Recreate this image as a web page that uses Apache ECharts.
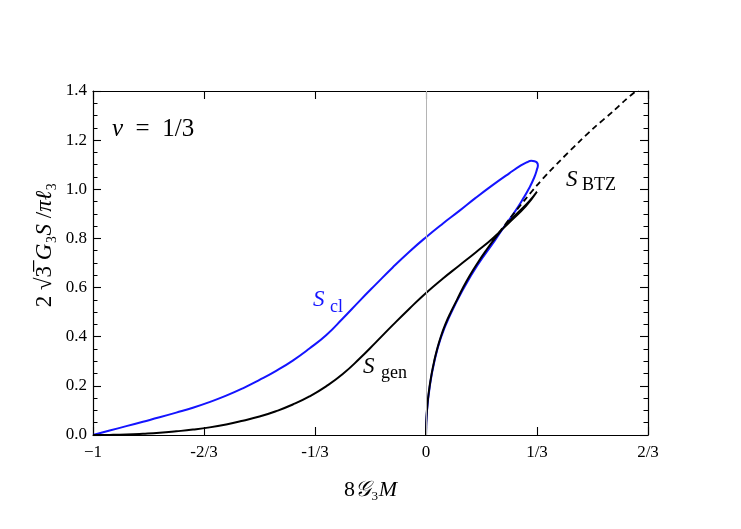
<!DOCTYPE html>
<html>
<head>
<meta charset="utf-8">
<script src="https://cdn.jsdelivr.net/npm/echarts@6/dist/echarts.min.js"></script>
<style>
  html, body { margin: 0; padding: 0; background: #fff; }
  #main { width: 741px; height: 529px; }
</style>
</head>
<body>
<div id="main"></div>
<script>
// tick labels
let xTickLabels = ["\u22121", "-2/3", "-1/3", "0", "1/3", "2/3"]
let yTickLabels = ["0.0", "0.2", "0.4", "0.6", "0.8", "1.0", "1.2", "1.4"]

// S_cl (blue): from the origin up to the tip near M=1/3, then back to -1
let sCl = [
    [0, 0], [0.0028, 0.095], [0.011, 0.195], [0.0245, 0.295], [0.0445, 0.395],
    [0.0745, 0.494], [0.1115, 0.593], [0.155, 0.692], [0.207, 0.792], [0.237, 0.852],
    [0.265, 0.905], [0.29, 0.958], [0.31, 1.005], [0.325, 1.048], [0.333, 1.08],
    [0.336, 1.098], [0.333, 1.109], [0.326, 1.114], [0.316, 1.116], [0.303, 1.11],
    [0.285, 1.097], [0.25, 1.065], [0.2, 1.017], [0.15, 0.966], [0.1, 0.912],
    [0.05, 0.86], [0, 0.805], [-0.05, 0.746], [-0.1, 0.682], [-0.15, 0.614],
    [-0.2, 0.545], [-0.25, 0.474], [-0.3, 0.406], [-0.35, 0.352], [-0.4, 0.303],
    [-0.45, 0.261], [-0.5, 0.224], [-0.55, 0.19], [-0.6, 0.16], [-0.65, 0.134],
    [-0.7, 0.111], [-0.75, 0.091], [-0.8, 0.072], [-0.85, 0.054], [-0.9, 0.036],
    [-0.95, 0.018], [-1, 0]
]

// S_gen (black): lower branch up to the cusp at M=1/3, then upper branch back to -1
let sGen = [
    [0, 0], [0.0007, 0.05], [0.0028, 0.1], [0.0062, 0.15], [0.011, 0.2],
    [0.017, 0.25], [0.0245, 0.3], [0.0335, 0.35], [0.0445, 0.4], [0.058, 0.45],
    [0.0745, 0.5], [0.093, 0.55], [0.1115, 0.6], [0.132, 0.65], [0.155, 0.7],
    [0.18, 0.75], [0.207, 0.8], [0.237, 0.85], [0.272, 0.9], [0.309, 0.95],
    [0.333, 0.99],
    [0.3, 0.932], [0.25, 0.865], [0.2, 0.8], [0.15, 0.744], [0.1, 0.69],
    [0.05, 0.636], [0, 0.578], [-0.05, 0.514], [-0.1, 0.447], [-0.15, 0.378],
    [-0.2, 0.31], [-0.25, 0.248], [-0.3, 0.198], [-0.35, 0.157], [-0.4, 0.124],
    [-0.45, 0.097], [-0.5, 0.075], [-0.55, 0.058], [-0.6, 0.043], [-0.65, 0.031],
    [-0.7, 0.022], [-0.75, 0.015], [-0.8, 0.009], [-0.85, 0.005], [-0.9, 0.002],
    [-0.95, 0.0005], [-1, 0]
]

// S_BTZ (dashed)
let sBtz = [
    [0.2, 0.79], [0.25, 0.878], [0.3, 0.962], [0.333, 1.016], [0.372, 1.074],
    [0.4, 1.113], [0.462, 1.196], [0.5, 1.245], [0.5625, 1.318], [0.6, 1.365],
    [0.64, 1.41]
]

let serif = "'Liberation Serif', 'DejaVu Serif', serif"

var myChart = echarts.init(document.getElementById('main'))

function frameX(pos, withLabels) {
    return {
        type: 'value', position: pos, min: -1, max: 2 / 3, interval: 1 / 3,
        axisLine: { show: true, onZero: false, lineStyle: { color: '#000', width: 1.2 } },
        axisTick: { show: true, inside: true, length: 8, lineStyle: { color: '#000', width: 1.1 } },
        axisLabel: {
            show: withLabels, color: '#000', fontFamily: serif, fontSize: 17, margin: 9,
            formatter: v => xTickLabels[Math.round(v * 3) + 3]
        },
        splitLine: { show: false }
    }
}

function frameY(pos, withLabels) {
    return {
        type: 'value', position: pos, min: 0, max: 1.4, interval: 0.2,
        axisLine: { show: true, onZero: false, lineStyle: { color: '#000', width: 1.2 } },
        axisTick: { show: true, inside: true, length: 8, lineStyle: { color: '#000', width: 1.1 } },
        minorTick: { show: true, splitNumber: 4, length: 4.5, lineStyle: { color: '#000', width: 1 } },
        axisLabel: {
            show: withLabels, color: '#000', fontFamily: serif, fontSize: 17, margin: 6,
            formatter: v => yTickLabels[Math.round(v / 0.2)]
        },
        splitLine: { show: false }
    }
}

let xBottom = frameX('bottom', true)
xBottom.name = '{r|8}{i|\u{1D4A2}}{r|\u2083}{i|M}'
xBottom.nameLocation = 'middle'
xBottom.nameGap = 44
xBottom.nameTextStyle = {
    color: '#000', fontFamily: serif, fontSize: 22,
    rich: {
        r: { fontFamily: serif, fontSize: 22, color: '#000' },
        i: { fontFamily: serif, fontSize: 22, fontStyle: 'italic', color: '#000' }
    }
}

let richTitle = {
    r: { fontFamily: serif, fontSize: 23, color: '#000' },
    i: { fontFamily: serif, fontSize: 23, fontStyle: 'italic', color: '#000' }
}

var option = {
    animation: false,
    backgroundColor: '#fff',
    grid: { left: 93, right: 93, top: 91, bottom: 94 },
    xAxis: [xBottom, frameX('top', false)],
    yAxis: [frameY('left', true), frameY('right', false)],
    series: [
        {
            // thin grey line at M = 0
            type: 'line', data: [], z: 1,
            markLine: {
                silent: true, symbol: 'none', label: { show: false },
                lineStyle: { color: '#b4b4b4', width: 1, type: 'solid' },
                data: [{ xAxis: 0 }]
            }
        },
        {
            name: 'S_cl', type: 'line', data: sCl, showSymbol: false, smooth: 0.5, z: 2,
            lineStyle: { color: '#1414ff', width: 2 }
        },
        {
            name: 'S_gen', type: 'line', data: sGen, showSymbol: false, smooth: 0.5, z: 3,
            lineStyle: { color: '#000', width: 2 }
        },
        {
            name: 'S_BTZ', type: 'line', data: sBtz, showSymbol: false, smooth: 0.3, z: 4,
            lineStyle: { color: '#000', width: 1.8, type: [6, 4] }
        }
    ],
    graphic: [
        {
            // y axis title
            type: 'text', x: 45, y: 245, rotation: Math.PI / 2,
            style: {
                text: '{r|2 \u221A3\u0305 }{i|G}{r|\u2083}{i|S}{r| /}{i|\u03C0\u2113}{r|\u2083}',
                font: '23px ' + serif, fill: '#000', align: 'center', verticalAlign: 'middle',
                rich: richTitle
            }
        },
        {
            type: 'text', x: 112, y: 129,
            style: {
                text: '{i|\u03BD}\u2002=\u20021/3', font: '25px ' + serif, fill: '#000', verticalAlign: 'middle',
                rich: { i: { fontStyle: 'italic', fontSize: 25, fontFamily: serif } }
            }
        },
        { type: 'text', x: 313, y: 300, style: { text: 'S', font: 'italic 23px ' + serif, fill: '#1414ff', verticalAlign: 'middle' } },
        { type: 'text', x: 330, y: 307, style: { text: 'cl', font: '18px ' + serif, fill: '#1414ff', verticalAlign: 'middle' } },
        { type: 'text', x: 363, y: 367, style: { text: 'S', font: 'italic 23px ' + serif, fill: '#000', verticalAlign: 'middle' } },
        { type: 'text', x: 381, y: 373, style: { text: 'gen', font: '18px ' + serif, fill: '#000', verticalAlign: 'middle' } },
        { type: 'text', x: 566, y: 180, style: { text: 'S', font: 'italic 23px ' + serif, fill: '#000', verticalAlign: 'middle' } },
        { type: 'text', x: 582, y: 185, style: { text: 'BTZ', font: '18px ' + serif, fill: '#000', verticalAlign: 'middle' } }
    ]
}

myChart.setOption(option)
</script>
</body>
</html>
